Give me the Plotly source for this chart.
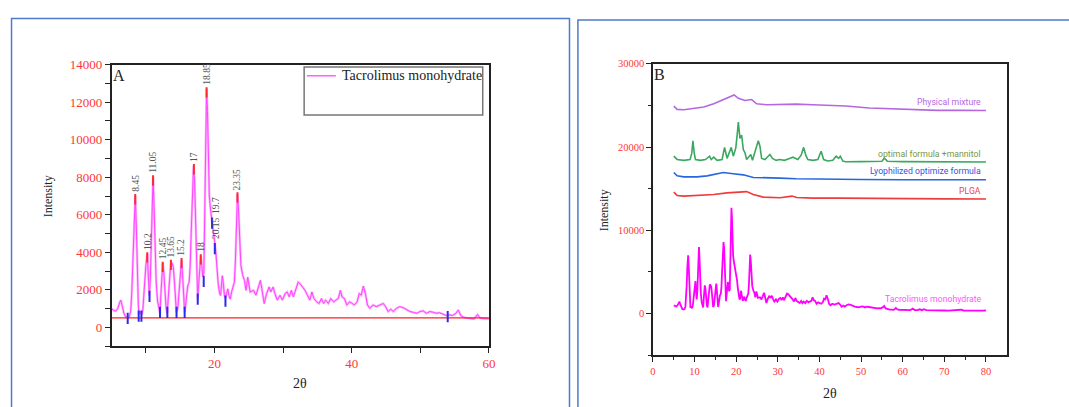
import plotly.graph_objects as go

# ---------------- data ----------------
# Tacrolimus monohydrate XRD pattern (2-theta, intensity)
tac_2theta = [5.0, 5.3, 5.6, 5.9, 6.15, 6.35, 6.55, 6.8, 7.05, 7.35, 7.6, 7.8, 7.95, 8.1, 8.25, 8.45,
              8.6, 8.75, 8.9, 9.0, 9.15, 9.25, 9.4, 9.55, 9.7, 9.85, 10.0, 10.2, 10.35, 10.5, 10.65,
              10.8, 10.95, 11.05, 11.2, 11.35, 11.5, 11.7, 11.9, 12.05, 12.2, 12.35, 12.45, 12.6,
              12.75, 12.95, 13.1, 13.3, 13.5, 13.65, 13.85, 14.0, 14.15, 14.3, 14.45, 14.65, 14.85,
              15.05, 15.2, 15.35, 15.5, 15.65, 15.8, 15.95, 16.1, 16.3, 16.45, 16.6, 16.8, 16.95,
              17.1, 17.25, 17.4, 17.55, 17.7, 17.85, 18.0, 18.15, 18.3, 18.45, 18.6, 18.72, 18.85,
              18.98, 19.1, 19.25, 19.45, 19.65, 19.85, 20.05, 20.2, 20.35, 20.55, 20.75, 20.9, 21.05,
              21.15, 21.3, 21.45, 21.6, 21.75, 21.95, 22.1, 22.3, 22.5, 22.7, 22.9, 23.05, 23.2,
              23.35, 23.5, 23.65, 23.85, 24.1, 24.37, 24.6, 24.85, 25.2, 25.7, 26.05, 26.4, 26.7,
              26.9, 27.25, 27.6, 27.97, 28.2, 28.55, 28.8, 29.16, 29.55, 29.9, 30.3, 30.6, 30.9,
              31.2, 31.5, 31.85, 32.2, 32.5, 32.85, 33.2, 33.55, 33.9, 34.2, 34.5, 34.9, 35.25,
              35.6, 35.9, 36.2, 36.6, 36.95, 37.4, 37.7, 38.05, 38.35, 38.6, 38.95, 39.3, 39.7,
              40.05, 40.4, 40.8, 41.1, 41.4, 41.7, 42.0, 42.3, 42.65, 43.1, 43.6, 44.1, 44.6, 44.95,
              45.3, 45.7, 46.05, 46.5, 47.0, 47.5, 48.0, 48.5, 49.0, 49.5, 49.95, 50.4, 50.9, 51.4,
              51.9, 52.35, 52.8, 53.3, 53.8, 54.3, 54.7, 55.2, 55.55, 55.9, 56.4, 56.9, 57.35, 57.85,
              58.35, 58.7, 59.2, 59.7, 60.3, 61.0, 61.8, 62.4, 62.9, 63.6, 64.1, 64.6, 65.1, 65.6,
              66.3, 67.2, 68.0, 69.0, 70.0, 71.0, 72.0, 73.0, 74.0, 74.6, 75.5, 76.5, 77.5, 78.5,
              79.3, 80.0]
tac_int = [1000, 900, 860, 1000, 1300, 1450, 1150, 750, 560, 500, 560, 900, 1900, 3400, 5500, 7000,
           5500, 3000, 1200, 700, 850, 800, 650, 900, 1800, 2700, 3300, 3900, 2800, 1700, 2600,
           5200, 7400, 8000, 6400, 4000, 2400, 1400, 900, 750, 1800, 3000, 3400, 3000,
           1900, 1000, 750, 1800, 3100, 3500, 3400, 3200, 2500, 1300, 800, 1000, 2000,
           3100, 3600, 2800, 1500, 800, 1200, 1900, 2200, 2400, 3200, 5000, 7500, 8600,
           7800, 5500, 3000, 1500, 2300, 3300, 3800, 3300, 2700, 2900, 6500, 10500, 12700,
           11500, 9000, 7000, 6200, 5700, 5200, 4500, 4000, 3200, 2300, 1800, 1700, 2400,
           2750, 2300, 1700, 1550, 1800, 2050, 1700, 1500, 1900, 2200, 2400, 3500, 5800,
           7100, 6300, 4500, 3300, 2800, 2500, 1970, 2670, 1885, 1970, 1710, 2150, 2500,
           2060, 1270, 1800, 2150, 1885, 2150, 1800, 1450, 1710, 1450, 1800, 1885, 1620,
           1970, 1620, 1970, 2410, 2320, 2150, 1970, 1710, 1450, 1885, 1535, 1360, 1270,
           1535, 1270, 1450, 1270, 1535, 1360, 1450, 1535, 1970, 1620, 1535, 1190, 1360,
           1270, 1190, 1360, 1800, 1710, 2200, 1800, 1190, 1010, 1190, 1100, 1190, 1270, 1100,
           840, 970, 840, 1010, 1100, 1050, 925, 840, 800, 750, 840, 880, 750, 840,
           800, 750, 780, 700, 630, 660, 630, 750, 925, 630, 520, 490, 490, 450,
           680, 500, 470, 450, 430, 440, 420, 600, 430, 420, 520, 420, 540, 420,
           400, 380, 400, 370, 380, 360, 380, 370, 470, 380, 360, 370, 360, 380,
           360, 380]

baseline_int = 500

# Peak picks (red) and valley picks (blue)
peak_pos = [8.45, 10.2, 11.05, 12.45, 13.65, 15.2, 17.0, 18.0, 18.85, 23.35]
peak_int = [7000, 3900, 8000, 3400, 3500, 3600, 8600, 3800, 12700, 7100]
valley_pos = [7.35, 8.95, 9.35, 10.53, 12.06, 13.13, 14.47, 15.65, 17.56, 18.43, 19.65, 20.05, 21.6, 54.0]
valley_int = [480, 600, 600, 1650, 800, 800, 800, 800, 1500, 2450, 5550, 4200, 1400, 570]

# Peak position labels
label_text = ["8.45", "10.2", "11.05", "12.45", "13.65", "15.2", "17", "18", "18.85", "19.7", "20.15", "23.35"]
label_pos = [8.45, 10.2, 11.05, 12.45, 13.65, 15.2, 17.0, 18.0, 18.85, 20.2, 20.25, 23.35]
label_int = [7000, 3900, 8000, 3400, 3500, 3600, 8600, 3800, 12700, 5850, 4500, 7100]

# Other samples (offset patterns)
pm_2theta = [5.0, 5.8, 7.4, 9.8, 12.2, 14.6, 16.9, 18.5, 19.5, 20.5, 22.1, 23.7, 24.9, 27.3, 30.5,
             34.4, 38.4, 42.4, 46.3, 52.0, 60.1, 68.3, 74.0, 80.0]
pm_int = [24900, 24520, 24480, 24600, 24800, 25190, 25700, 25970, 26250, 25850, 25580, 25700, 25190,
          25080, 25150, 25150, 25080, 25000, 24920, 24680, 24520, 24400, 24400, 24380]

mann_2theta = [5.0, 5.8, 7.4, 8.9, 9.3, 9.6, 9.9, 10.2, 11.4, 12.6, 13.6, 14.0, 14.6, 15.4, 16.6,
               17.2, 17.8, 18.4, 18.8, 19.3, 19.9, 20.3, 20.5, 20.9, 21.3, 21.7, 22.1, 22.5, 23.0,
               23.5, 23.9, 24.5, 24.9, 25.3, 25.7, 26.1, 26.9, 27.4, 28.1, 28.7, 29.6, 30.4, 31.6,
               32.8, 33.6, 34.8, 35.6, 36.2, 36.7, 37.2, 38.4, 39.6, 40.4, 41.0, 42.0, 43.2, 44.0,
               44.6, 45.0, 45.6, 46.3, 50.0, 55.0, 55.6, 56.3, 60.0, 65.0, 70.0, 75.0, 80.0]
mann_int = [18900, 18510, 18400, 18510, 19200, 20750, 19300, 18510, 18400, 18500, 18900, 18500, 18780,
            18400, 18500, 19960, 18630, 19300, 19960, 18900, 19900, 21820, 23000, 21040, 21430, 19700,
            19300, 18510, 18780, 19100, 18400, 19300, 19900, 20750, 20100, 18630, 18500, 18780, 19100,
            18630, 18400, 18500, 18400, 18630, 18780, 18500, 19020, 19960, 19020, 18500, 18400, 18500,
            19500, 18500, 18320, 18400, 18900, 18630, 18900, 18320, 18240, 18250, 18300, 18650, 18300,
            18250, 18220, 18200, 18220, 18200]

lyo_2theta = [5.0, 5.8, 7.4, 10.6, 13.0, 15.4, 16.9, 19.3, 21.7, 24.1, 27.3, 30.5, 34.4, 42.4, 50.0,
              60.0, 70.0, 80.0]
lyo_int = [16940, 16540, 16420, 16420, 16540, 16740, 16940, 16800, 16660, 16350, 16270, 16270, 16190,
           16110, 16100, 16080, 16070, 16070]

plga_2theta = [5.0, 5.8, 7.4, 10.6, 14.6, 17.8, 20.1, 21.7, 22.5, 24.1, 26.5, 30.5, 33.4, 34.5, 38.4,
               45.0, 50.0, 60.0, 70.0, 80.0]
plga_int = [14580, 14190, 14110, 14190, 14300, 14500, 14580, 14700, 14650, 14300, 13990, 13910, 14110,
            13950, 13870, 13870, 13870, 13800, 13780, 13760]

series_names = ["Physical mixture", "optimal formula +mannitol", "Lyophilized optimize formula",
                "PLGA", "Tacrolimus monohydrate"]
series_label_int = [25380, 19220, 17130, 14770, 1800]

# ---------------- styling ----------------
W, H = 1069, 407
SERIF = "Liberation Serif, Times New Roman, serif"
SANS = "Roboto, Liberation Sans, sans-serif"
TICK_RED = "#ff3636"
C_MAG_A = "#ff44ff"
C_MAG = "#ff00ff"
C_PM = "#b468e0"
C_MANN = "#3aa860"
C_LYO = "#2866e0"
C_PLGA = "#ee3b3b"
label_colors = [C_PM, "#7a9640", "#3a4fe0", "#f04545", "#ff55ff"]


def px_x(v):
    return v / W


def px_y(v):
    return 1 - v / H


fig = go.Figure()

# Panel A: pattern drawn as a pale band with a thin magenta core
fig.add_trace(go.Scatter(x=tac_2theta, y=tac_int, mode="lines", line=dict(color="#ffb3ff", width=2.4),
                         xaxis="x", yaxis="y", showlegend=False))
fig.add_trace(go.Scatter(x=tac_2theta, y=tac_int, mode="lines", line=dict(color=C_MAG_A, width=1),
                         xaxis="x", yaxis="y", showlegend=False))
fig.add_trace(go.Scatter(x=[tac_2theta[0], tac_2theta[-1]], y=[baseline_int, baseline_int], mode="lines",
                         line=dict(color="#ff2020", width=1.3), xaxis="x", yaxis="y", showlegend=False))

red_x, red_y = [], []
for p, v in zip(peak_pos, peak_int):
    red_x += [p, p, None]
    red_y += [v - 450, v + 100, None]
fig.add_trace(go.Scatter(x=red_x, y=red_y, mode="lines", line=dict(color="#ff2a2a", width=2),
                         xaxis="x", yaxis="y", showlegend=False))

blue_x, blue_y = [], []
for p, v in zip(valley_pos, valley_int):
    blue_x += [p, p, None]
    blue_y += [v - 300, v + 300, None]
fig.add_trace(go.Scatter(x=blue_x, y=blue_y, mode="lines", line=dict(color="#2a2aee", width=2),
                         xaxis="x", yaxis="y", showlegend=False))

# Panel B
for xs, ys, col, w in [(pm_2theta, pm_int, C_PM, 1.6), (mann_2theta, mann_int, C_MANN, 1.6),
                       (lyo_2theta, lyo_int, C_LYO, 1.6), (plga_2theta, plga_int, C_PLGA, 1.6),
                       (tac_2theta, tac_int, C_MAG, 1.8)]:
    fig.add_trace(go.Scatter(x=xs, y=ys, mode="lines", line=dict(color=col, width=w),
                             xaxis="x2", yaxis="y2", showlegend=False))

annotations = []
for t, p, v in zip(label_text, label_pos, label_int):
    annotations.append(dict(x=p, y=v, xref="x", yref="y", text=t, showarrow=False, textangle=-90,
                            xanchor="center", yanchor="bottom", yshift=2,
                            font=dict(family=SERIF, size=9.5, color="#555555")))

for name, v, col in zip(series_names, series_label_int, label_colors):
    annotations.append(dict(x=79.4, y=v, xref="x2", yref="y2", text=name, showarrow=False,
                            xanchor="right", yanchor="middle",
                            font=dict(family=SANS, size=8.7, color=col)))


def paper_text(x, y, text, size, angle=0, xanchor="center"):
    return dict(x=px_x(x), y=px_y(y), xref="paper", yref="paper", text=text, showarrow=False,
                textangle=angle, xanchor=xanchor, yanchor="middle",
                font=dict(family=SERIF, size=size, color="#222"))


annotations += [
    paper_text(117, 70, "A", 16),
    paper_text(662, 69, "B", 16),
    paper_text(45, 193, "Intensity", 12, angle=-90),
    paper_text(607, 207, "Intensity", 12, angle=-90),
    paper_text(300, 383, "2θ", 14),
    paper_text(834, 393, "2θ", 14),
    paper_text(340, 70, "Tacrolimus monohydrate", 14, xanchor="left"),
]

shapes = [
    # page frames
    dict(type="rect", xref="paper", yref="paper", x0=px_x(8.6), x1=px_x(571.3), y0=-0.1, y1=px_y(11.7),
         line=dict(color="#4f7bc8", width=1.5)),
    dict(type="rect", xref="paper", yref="paper", x0=px_x(579.8), x1=1.1, y0=-0.1, y1=px_y(13.3),
         line=dict(color="#4f7bc8", width=1.5)),
    # legend box of panel A
    dict(type="rect", xref="paper", yref="paper", x0=px_x(303.7), x1=px_x(483.8), y0=px_y(110), y1=px_y(61),
         line=dict(color="#777777", width=1.5), fillcolor="white"),
    dict(type="line", xref="paper", yref="paper", x0=px_x(306.5), x1=px_x(335.7), y0=px_y(70), y1=px_y(70),
         line=dict(color=C_MAG_A, width=1.3)),
]

axis_common = dict(showline=True, linecolor="#222", linewidth=1.5, mirror=True, ticks="outside",
                   tickcolor="#222", showgrid=False, zeroline=False)

yA_vals = list(range(-1000, 14001, 1000))
yB_vals = [0, 10000, 20000, 30000]

fig.update_layout(
    width=W, height=H, margin=dict(l=0, r=0, t=0, b=0),
    paper_bgcolor="white", plot_bgcolor="white", showlegend=False,
    xaxis=dict(domain=[px_x(109.5), px_x(490)], range=[5, 60], anchor="y",
               tickvals=[10, 20, 30, 40, 50, 60], ticktext=["", "20", "", "40", "", "60"],
               ticklen=5, tickfont=dict(family=SERIF, size=13, color=TICK_RED), **axis_common),
    yaxis=dict(domain=[px_y(345), px_y(58.7)], range=[-1000, 14000], anchor="x",
               tickvals=yA_vals,
               ticktext=[str(v) if v >= 0 and v % 2000 == 0 else "" for v in yA_vals],
               ticklen=5, tickfont=dict(family=SERIF, size=13, color=TICK_RED), **axis_common),
    xaxis2=dict(domain=[px_x(655.5), px_x(1012.3)], range=[0, 85], anchor="y2",
                tickvals=list(range(0, 81, 10)), ticklen=5,
                minor=dict(tickvals=list(range(5, 81, 10)), ticklen=3, ticks="outside", tickcolor="#222"),
                tickfont=dict(family=SERIF, size=10.5, color=TICK_RED), **axis_common),
    yaxis2=dict(domain=[px_y(354.4), px_y(57.7)], range=[-5000, 30000], anchor="x2",
                tickvals=yB_vals, ticktext=[str(v) for v in yB_vals], ticklen=5,
                minor=dict(tickvals=[-5000, 5000, 15000, 25000], ticklen=3, ticks="outside", tickcolor="#222"),
                tickfont=dict(family=SERIF, size=10.5, color=TICK_RED), **axis_common),
    annotations=annotations,
    shapes=shapes,
)

fig.write_html("out.html")
